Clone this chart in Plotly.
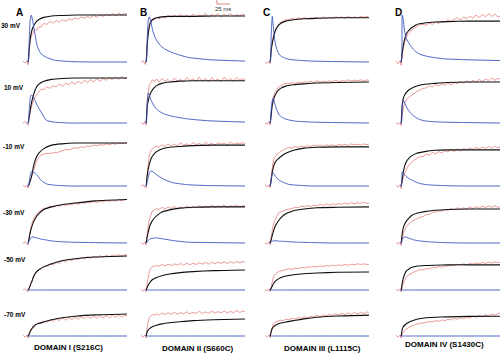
import plotly.graph_objects as go

# ---------------- time grids (ms) ----------------
TR = [0, 4, 8, 10, 12, 14, 16, 19, 22, 26, 30, 35, 40, 46, 52, 58, 64, 70, 76, 82,
      88, 94, 100, 106, 112, 118, 124, 130, 136, 142, 148, 154, 160, 166, 172, 178, 184, 190, 196, 200]
TB = [10, 12, 14, 17, 20, 25, 30, 40, 55, 75, 100, 140, 200]
TU = [8, 10, 12, 14, 16, 19, 23, 28, 35, 45, 60, 90, 130, 200]

# ---------------- 30 mV ----------------
RED_A30 = [0.02,-0.02,0.03,-0.06,0.25,0.45,0.57,0.6,0.68,0.68,0.75,0.75,0.82,0.8,0.86,0.83,0.88,0.85,0.9,0.87,0.92,0.89,0.94,0.91,0.96,0.93,0.97,0.94,0.99,0.95,1.0,0.97,1.02,0.98,1.03,0.99,1.04,1.0,1.04,1.01]
RED_B30 = [0.0,0.03,-0.05,0.04,0.45,0.7,0.8,0.88,0.92,0.89,0.95,0.92,0.97,0.94,0.99,0.95,0.99,0.96,1.01,0.96,1.0,0.95,1.02,0.96,1.0,0.97,1.03,0.96,1.01,0.97,1.03,0.96,1.01,0.98,1.03,0.97,1.01,0.98,1.02,0.99]
RED_C30 = [0.0,-0.03,0.02,-0.04,0.3,0.45,0.55,0.65,0.73,0.8,0.85,0.86,0.9,0.9,0.93,0.91,0.94,0.92,0.95,0.92,0.94,0.93,0.95,0.92,0.96,0.93,0.95,0.93,0.96,0.94,0.96,0.93,0.97,0.94,0.96,0.94,0.97,0.95,0.97,0.95]
RED_D30 = [0.02,-0.04,0.03,-0.07,0.15,0.3,0.4,0.5,0.58,0.62,0.68,0.72,0.75,0.79,0.8,0.78,0.83,0.8,0.85,0.82,0.87,0.85,0.9,0.86,0.91,0.94,0.89,0.96,0.92,0.98,0.93,1.0,0.95,1.01,0.96,1.03,0.97,1.02,0.96,0.98]
BLK_A30 = [0,0.3,0.5,0.67,0.76,0.85,0.9,0.95,0.98,0.99,1.0,1.0,1.0]
BLK_B30 = [0,0.35,0.6,0.8,0.87,0.92,0.94,0.96,0.97,0.97,0.97,0.98,0.98]
BLK_C30 = [0,0.25,0.4,0.55,0.67,0.77,0.82,0.87,0.9,0.92,0.93,0.94,0.94]
BLK_D30 = [0,0.2,0.35,0.5,0.6,0.68,0.73,0.8,0.83,0.85,0.86,0.87,0.87]
BLU_A30 = [0,0,0.5,0.9,1.0,0.85,0.6,0.32,0.17,0.1,0.04,0.01,0,0]
BLU_B30 = [0,0,0.5,0.9,0.96,0.85,0.65,0.5,0.38,0.28,0.2,0.1,0.05,0.02]
BLU_C30 = [0,0,0.6,0.97,0.75,0.45,0.26,0.15,0.1,0.06,0.04,0.02,0.01,0]
BLU_D30 = [0,0,1.0,0.9,0.7,0.52,0.43,0.35,0.25,0.17,0.12,0.07,0.05,0.03]

# ---------------- 10 mV ----------------
RED_A10 = [0.0,0.03,-0.03,-0.05,0.12,0.25,0.35,0.47,0.56,0.63,0.69,0.75,0.74,0.8,0.77,0.83,0.8,0.87,0.82,0.88,0.85,0.91,0.86,0.93,0.88,0.95,0.9,0.96,0.92,0.98,0.93,0.99,0.95,1.0,0.96,1.02,0.97,1.03,0.98,1.01]
RED_B10 = [0.02,-0.03,0.04,-0.05,0.5,0.75,0.85,0.9,0.96,0.92,0.98,0.91,0.99,0.93,0.97,0.9,1.0,0.93,0.97,0.91,1.01,0.94,0.98,0.92,1.02,0.93,0.99,0.91,1.01,0.94,0.98,0.92,1.02,0.94,0.99,0.93,1.01,0.95,0.99,0.96]
RED_C10 = [0.0,-0.02,0.03,-0.04,0.25,0.45,0.58,0.67,0.74,0.8,0.83,0.85,0.88,0.87,0.9,0.88,0.91,0.89,0.92,0.9,0.93,0.9,0.94,0.91,0.93,0.91,0.94,0.92,0.95,0.92,0.94,0.93,0.96,0.93,0.95,0.94,0.96,0.93,0.96,0.95]
RED_D10 = [0.02,-0.03,0.02,-0.06,0.2,0.35,0.42,0.5,0.55,0.58,0.62,0.66,0.7,0.73,0.77,0.78,0.83,0.8,0.86,0.82,0.87,0.84,0.89,0.85,0.9,0.87,0.92,0.88,0.94,0.89,0.95,0.91,0.97,0.92,0.98,0.94,1.0,0.95,0.99,0.98]
BLK_A10 = [0,0.15,0.3,0.48,0.62,0.78,0.86,0.93,0.97,0.99,1.0,1.0,1.0]
BLK_B10 = [0,0.38,0.5,0.62,0.7,0.78,0.83,0.88,0.91,0.93,0.94,0.94,0.94]
BLK_C10 = [0,0.2,0.4,0.55,0.63,0.72,0.77,0.82,0.85,0.87,0.89,0.9,0.91]
BLK_D10 = [0,0.4,0.55,0.63,0.68,0.74,0.77,0.82,0.86,0.88,0.9,0.91,0.91]
BLU_A10 = [0,0,0.3,0.55,0.62,0.6,0.5,0.38,0.24,0.06,0.02,0,0,0]
BLU_B10 = [0,0,0.45,0.67,0.62,0.52,0.42,0.33,0.26,0.2,0.15,0.09,0.05,0.02]
BLU_C10 = [0,0,0.3,0.5,0.55,0.42,0.28,0.17,0.11,0.07,0.04,0.02,0.01,0]
BLU_D10 = [0,0,0.35,0.5,0.47,0.38,0.3,0.22,0.15,0.08,0.04,0.02,0.01,0]

# ---------------- -10 mV ----------------
RED_AM10 = [0.02,-0.02,0.02,-0.05,0.05,0.12,0.2,0.32,0.45,0.58,0.66,0.72,0.74,0.76,0.75,0.78,0.77,0.8,0.82,0.85,0.84,0.87,0.89,0.88,0.91,0.9,0.93,0.92,0.95,0.94,0.96,0.95,0.98,0.96,0.99,0.97,1.0,0.98,1.01,0.99]
RED_BM10 = [0.0,0.03,-0.03,-0.05,0.3,0.55,0.72,0.82,0.87,0.9,0.93,0.9,0.96,0.92,0.98,0.93,0.97,0.94,1.0,0.95,0.98,0.94,1.01,0.96,0.99,0.95,1.02,0.96,0.99,0.95,1.01,0.97,1.0,0.96,1.02,0.97,1.0,0.98,1.01,0.98]
RED_CM10 = [0.02,-0.02,0.03,-0.04,0.25,0.45,0.58,0.67,0.72,0.77,0.8,0.84,0.87,0.9,0.88,0.92,0.9,0.93,0.91,0.94,0.92,0.95,0.93,0.95,0.92,0.96,0.94,0.96,0.93,0.97,0.95,0.97,0.94,0.98,0.96,0.97,0.95,0.98,0.96,0.98]
RED_DM10 = [0.02,-0.03,0.03,-0.06,0.1,0.2,0.28,0.36,0.44,0.5,0.55,0.6,0.64,0.68,0.69,0.74,0.72,0.78,0.75,0.8,0.77,0.82,0.79,0.84,0.8,0.86,0.82,0.87,0.84,0.88,0.85,0.9,0.86,0.91,0.87,0.92,0.88,0.93,0.89,0.91]
BLK_AM10 = [0,0.05,0.12,0.25,0.45,0.65,0.76,0.87,0.95,0.98,1.0,1.0,1.0]
BLK_BM10 = [0,0.25,0.4,0.55,0.65,0.74,0.8,0.86,0.9,0.92,0.94,0.95,0.95]
BLK_CM10 = [0,0.15,0.32,0.48,0.56,0.63,0.68,0.76,0.83,0.88,0.9,0.91,0.91]
BLK_DM10 = [0,0.15,0.32,0.48,0.57,0.65,0.7,0.76,0.8,0.83,0.84,0.84,0.84]
BLU_AM10 = [0,0,0.1,0.25,0.33,0.33,0.3,0.24,0.13,0.05,0.02,0,0,0]
BLU_BM10 = [0,0,0.1,0.2,0.3,0.35,0.33,0.28,0.22,0.15,0.08,0.03,0.01,0]
BLU_CM10 = [0,0,0.15,0.28,0.3,0.25,0.18,0.13,0.09,0.04,0.02,0,0,0]
BLU_DM10 = [0,0,0.33,0.3,0.27,0.23,0.19,0.15,0.11,0.06,0.03,0.01,0,0]

# ---------------- -30 mV ----------------
RED_AM30 = [0.0,0.02,-0.03,-0.05,0.15,0.3,0.42,0.52,0.6,0.67,0.72,0.77,0.81,0.81,0.86,0.84,0.88,0.86,0.9,0.87,0.91,0.89,0.93,0.9,0.94,0.92,0.95,0.93,0.97,0.94,0.98,0.95,0.99,0.96,1.0,0.97,1.01,0.98,1.02,1.0]
RED_BM30 = [0.02,-0.03,0.03,-0.05,0.25,0.42,0.55,0.65,0.75,0.77,0.8,0.78,0.83,0.79,0.84,0.8,0.85,0.8,0.84,0.81,0.86,0.81,0.85,0.82,0.87,0.82,0.86,0.83,0.88,0.83,0.86,0.84,0.88,0.83,0.87,0.85,0.88,0.84,0.87,0.86]
RED_CM30 = [0.0,-0.02,0.03,-0.04,0.15,0.3,0.42,0.53,0.62,0.7,0.72,0.75,0.77,0.79,0.8,0.83,0.82,0.86,0.84,0.87,0.85,0.88,0.86,0.9,0.87,0.91,0.88,0.91,0.89,0.92,0.9,0.93,0.9,0.94,0.91,0.94,0.92,0.95,0.92,0.93]
RED_DM30 = [0.02,-0.03,0.03,-0.06,0.1,0.2,0.28,0.36,0.42,0.47,0.5,0.53,0.56,0.6,0.61,0.66,0.67,0.71,0.72,0.75,0.74,0.78,0.76,0.8,0.77,0.82,0.78,0.82,0.79,0.84,0.8,0.85,0.81,0.86,0.82,0.86,0.83,0.87,0.83,0.84]
BLK_AM30 = [0,0.12,0.25,0.38,0.48,0.6,0.68,0.78,0.84,0.89,0.93,0.98,1.01]
BLK_BM30 = [0,0.15,0.26,0.4,0.48,0.57,0.63,0.72,0.77,0.81,0.83,0.84,0.84]
BLK_CM30 = [0,0.08,0.18,0.3,0.4,0.5,0.58,0.68,0.75,0.79,0.82,0.83,0.84]
BLK_DM30 = [0,0.22,0.35,0.45,0.51,0.58,0.64,0.69,0.73,0.76,0.78,0.79,0.79]
BLU_AM30 = [0,0,0.06,0.1,0.13,0.14,0.13,0.11,0.09,0.07,0.04,0.02,0.01,0]
BLU_BM30 = [0,0,0.03,0.06,0.08,0.1,0.11,0.12,0.11,0.09,0.06,0.02,0.01,0]
BLU_CM30 = [0,0,0.02,0.04,0.05,0.05,0.05,0.04,0.04,0.03,0.02,0.01,0,0]
BLU_DM30 = [0,0,0.08,0.12,0.14,0.14,0.12,0.1,0.07,0.05,0.03,0.01,0,0]

# ---------------- -50 mV ----------------
RED_AM50 = [0.0,0.03,-0.03,-0.05,0.06,0.14,0.21,0.32,0.44,0.53,0.6,0.62,0.7,0.7,0.77,0.74,0.82,0.78,0.87,0.83,0.9,0.86,0.93,0.89,0.96,0.91,0.98,0.93,0.99,0.95,1.01,0.96,1.02,0.98,1.03,0.99,1.04,1.0,1.04,1.02]
RED_BM50 = [0.02,-0.03,0.03,-0.06,0.2,0.4,0.55,0.64,0.68,0.7,0.72,0.7,0.75,0.71,0.76,0.72,0.77,0.73,0.78,0.73,0.79,0.74,0.79,0.75,0.8,0.76,0.81,0.76,0.82,0.77,0.82,0.78,0.83,0.78,0.83,0.79,0.84,0.8,0.84,0.82]
RED_CM50 = [0.0,-0.02,0.03,-0.05,0.1,0.25,0.38,0.46,0.5,0.54,0.56,0.58,0.6,0.62,0.61,0.64,0.63,0.66,0.65,0.68,0.67,0.69,0.68,0.71,0.69,0.72,0.7,0.73,0.71,0.74,0.72,0.75,0.73,0.76,0.74,0.77,0.75,0.77,0.75,0.76]
RED_DM50 = [0.02,-0.03,0.03,-0.06,0.1,0.2,0.28,0.35,0.42,0.46,0.5,0.53,0.56,0.6,0.59,0.63,0.62,0.66,0.65,0.69,0.67,0.71,0.7,0.73,0.71,0.75,0.73,0.77,0.74,0.78,0.76,0.8,0.77,0.81,0.78,0.82,0.79,0.83,0.8,0.82]
BLK_AM50 = [0,0.06,0.14,0.25,0.38,0.52,0.59,0.68,0.77,0.86,0.92,0.97,1.0]
BLK_BM50 = [0,0.08,0.15,0.22,0.28,0.33,0.37,0.42,0.47,0.51,0.54,0.57,0.59]
BLK_CM50 = [0,0.05,0.12,0.2,0.26,0.32,0.36,0.41,0.45,0.48,0.5,0.52,0.53]
BLK_DM50 = [0,0.2,0.35,0.48,0.56,0.62,0.66,0.7,0.72,0.73,0.74,0.74,0.74]

# ---------------- -70 mV ----------------
RED_AM70 = [0.03,-0.05,0.05,-0.1,0.12,0.25,0.35,0.42,0.5,0.55,0.6,0.58,0.67,0.62,0.73,0.66,0.78,0.7,0.82,0.72,0.84,0.74,0.86,0.76,0.88,0.78,0.9,0.79,0.91,0.8,0.93,0.82,0.94,0.83,0.95,0.84,0.96,0.86,0.95,0.91]
RED_BM70 = [0.04,-0.05,0.06,-0.1,0.45,0.7,0.85,0.92,0.97,0.95,1.02,0.95,1.05,0.97,1.06,0.98,1.08,0.99,1.07,1.0,1.1,1.01,1.08,1.02,1.12,1.02,1.1,1.03,1.13,1.04,1.11,1.05,1.14,1.05,1.12,1.06,1.15,1.07,1.13,1.12]
RED_CM70 = [0.03,-0.05,0.05,-0.08,0.25,0.45,0.55,0.62,0.65,0.68,0.72,0.7,0.76,0.74,0.8,0.77,0.84,0.8,0.87,0.83,0.9,0.86,0.94,0.88,0.96,0.91,0.99,0.93,1.01,0.95,1.03,0.97,1.05,0.99,1.07,1.0,1.08,1.02,1.09,1.08]
RED_DM70 = [0.03,-0.05,0.05,-0.09,0.1,0.18,0.24,0.3,0.36,0.41,0.45,0.5,0.54,0.57,0.6,0.6,0.65,0.64,0.7,0.67,0.73,0.7,0.76,0.73,0.8,0.76,0.83,0.79,0.86,0.82,0.9,0.85,0.93,0.88,0.97,0.91,1.0,0.95,1.03,1.05]
BLK_AM70 = [0,0.1,0.2,0.33,0.42,0.52,0.57,0.64,0.74,0.83,0.9,0.96,1.0]
BLK_BM70 = [0,0.2,0.28,0.35,0.4,0.45,0.49,0.55,0.6,0.65,0.7,0.74,0.77]
BLK_CM70 = [0,0.2,0.35,0.43,0.49,0.55,0.59,0.64,0.7,0.78,0.85,0.91,0.95]
BLK_DM70 = [0,0.3,0.42,0.5,0.56,0.63,0.68,0.76,0.82,0.85,0.87,0.89,0.9]

BLU_ZERO = [0, 0, 0, 0, 0, 0, 0, 0, 0, 0, 0, 0, 0, 0]

VOLTAGES = ["30 mV", "10 mV", "-10 mV", "-30 mV", "-50 mV", "-70 mV"]
LETTERS = ["A", "B", "C", "D"]
DOMAINS = ["DOMAIN I (S216C)", "DOMAIN II (S660C)", "DOMAIN III (L1115C)", "DOMAIN IV (S1430C)"]
SCALE_MS = 25

RED = [[RED_A30, RED_B30, RED_C30, RED_D30],
       [RED_A10, RED_B10, RED_C10, RED_D10],
       [RED_AM10, RED_BM10, RED_CM10, RED_DM10],
       [RED_AM30, RED_BM30, RED_CM30, RED_DM30],
       [RED_AM50, RED_BM50, RED_CM50, RED_DM50],
       [RED_AM70, RED_BM70, RED_CM70, RED_DM70]]
BLK = [[BLK_A30, BLK_B30, BLK_C30, BLK_D30],
       [BLK_A10, BLK_B10, BLK_C10, BLK_D10],
       [BLK_AM10, BLK_BM10, BLK_CM10, BLK_DM10],
       [BLK_AM30, BLK_BM30, BLK_CM30, BLK_DM30],
       [BLK_AM50, BLK_BM50, BLK_CM50, BLK_DM50],
       [BLK_AM70, BLK_BM70, BLK_CM70, BLK_DM70]]
BLU = [[BLU_A30, BLU_B30, BLU_C30, BLU_D30],
       [BLU_A10, BLU_B10, BLU_C10, BLU_D10],
       [BLU_AM10, BLU_BM10, BLU_CM10, BLU_DM10],
       [BLU_AM30, BLU_BM30, BLU_CM30, BLU_DM30],
       [BLU_ZERO, BLU_ZERO, BLU_ZERO, BLU_ZERO],
       [BLU_ZERO, BLU_ZERO, BLU_ZERO, BLU_ZERO]]

# ---------------- layout geometry (pixels) ----------------
W, H = 500, 353
COL_X0 = [23, 141, 265, 396]      # left pixel of each column (t = 0)
COL_W = 104                        # pixel width of 200 ms
ROW_BASE = [62, 123, 186, 243, 290, 336]
ROW_TOP = [15, 78, 143, 200, 256, 314]
Y_LO, Y_HI = -0.3, 1.25

RED_C = "rgb(226,110,110)"
BLK_C = "rgb(15,15,15)"
BLU_C = "rgb(58,86,190)"
FONT = "Arial, Liberation Sans, sans-serif"

fig = go.Figure()
layout = {}
for r in range(6):
    b, p = ROW_BASE[r], ROW_TOP[r]
    h = b - p
    y0 = 1 - (b - Y_LO * h) / H
    y1 = 1 - (b - Y_HI * h) / H
    for c in range(4):
        k = r * 4 + c + 1
        xa = "x" if k == 1 else f"x{k}"
        ya = "y" if k == 1 else f"y{k}"
        x0 = COL_X0[c] / W
        x1 = min((COL_X0[c] + COL_W) / W, 1.0)
        layout["xaxis" if k == 1 else f"xaxis{k}"] = dict(
            domain=[x0, x1], range=[0, 200], visible=False, fixedrange=True, anchor=ya)
        layout["yaxis" if k == 1 else f"yaxis{k}"] = dict(
            domain=[y0, y1], range=[Y_LO, Y_HI], visible=False, fixedrange=True, anchor=xa)
        fig.add_trace(go.Scatter(x=TR, y=RED[r][c], mode="lines", xaxis=xa, yaxis=ya,
                                 line=dict(color=RED_C, width=0.7), hoverinfo="skip"))
        fig.add_trace(go.Scatter(x=TB, y=BLK[r][c], mode="lines", xaxis=xa, yaxis=ya,
                                 line=dict(color=BLK_C, width=1.1, shape="spline", smoothing=0.6),
                                 hoverinfo="skip"))
        fig.add_trace(go.Scatter(x=TU, y=BLU[r][c], mode="lines", xaxis=xa, yaxis=ya,
                                 line=dict(color=BLU_C, width=0.9, shape="spline", smoothing=0.6),
                                 hoverinfo="skip"))

ann = []
VOLT_Y = [26, 87, 146, 212, 259, 314]
VOLT_X = [-1, 2, 1, 1, 2, 2]
for r, v in enumerate(VOLTAGES):
    ann.append(dict(x=VOLT_X[r] / W, y=1 - VOLT_Y[r] / H, xref="paper", yref="paper",
                    text=f"<b>{v}</b>", showarrow=False, xanchor="left", yanchor="middle",
                    font=dict(family=FONT, size=6.5, color="#000")))
LET_X = [19, 143, 266, 398]
for c, L in enumerate(LETTERS):
    ann.append(dict(x=LET_X[c] / W, y=1 - 12 / H, xref="paper", yref="paper",
                    text=f"<b>{L}</b>", showarrow=False, xanchor="center", yanchor="middle",
                    font=dict(family=FONT, size=10, color="#000")))
DOM_X = [68, 197, 322, 444]
DOM_Y = [347, 348, 348, 344]
for c, d in enumerate(DOMAINS):
    ann.append(dict(x=DOM_X[c] / W, y=1 - DOM_Y[c] / H, xref="paper", yref="paper",
                    text=f"<b>{d}</b>", showarrow=False, xanchor="center", yanchor="middle",
                    font=dict(family=FONT, size=8, color="#000")))
# scale bar label, placed in column-B time units
ann.append(dict(x=146 + SCALE_MS / 2, y=1 - 9 / H, xref="x2", yref="paper",
                text=f"{SCALE_MS} ms", showarrow=False, xanchor="center", yanchor="middle",
                font=dict(family=FONT, size=6, color="#333")))

shapes = [
    dict(type="line", xref="x2", yref="paper", x0=146, x1=146 + SCALE_MS,
         y0=1 - 4 / H, y1=1 - 4 / H, line=dict(color="rgb(210,110,110)", width=0.8)),
    dict(type="line", xref="x2", yref="paper", x0=146, x1=146,
         y0=1 - 0 / H, y1=1 - 4 / H, line=dict(color="rgb(210,110,110)", width=0.8)),
]

fig.update_layout(width=W, height=H, margin=dict(l=0, r=0, t=0, b=0),
                  paper_bgcolor="white", plot_bgcolor="rgba(0,0,0,0)",
                  showlegend=False, annotations=ann, shapes=shapes, **layout)
fig.write_html("out.html", config={"displayModeBar": False})
